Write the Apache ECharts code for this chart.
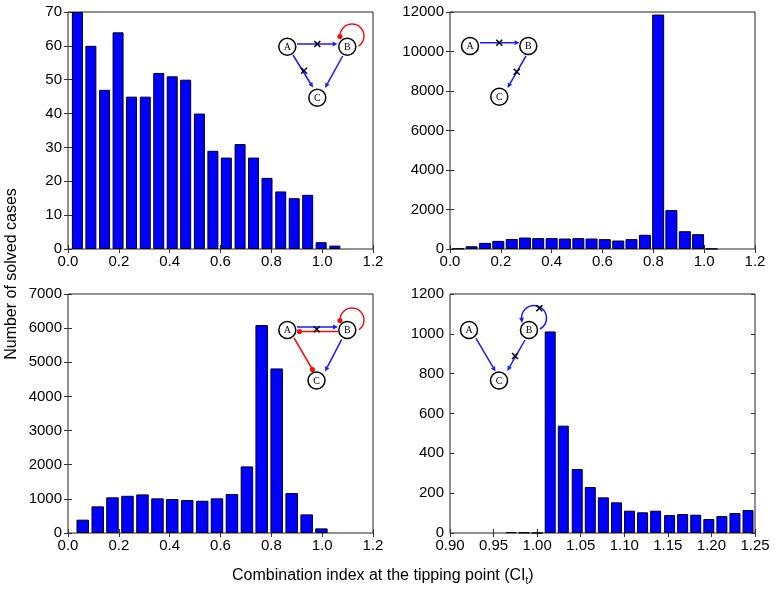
<!DOCTYPE html>
<html lang="en">
<head>
<meta charset="UTF-8">
<title>Combination index at the tipping point</title>
<script src="https://cdn.jsdelivr.net/npm/echarts@6/dist/echarts.min.js"></script>
<style>
  html, body { margin: 0; padding: 0; background: #fff; }
  #chart { width: 776px; height: 591px; }
</style>
</head>
<body>
<div id="chart"></div>
<script>
// histogram bin centres and counts, one pair of arrays per panel
var binsA = [0.037, 0.090, 0.144, 0.197, 0.250, 0.304, 0.357, 0.410, 0.463, 0.517,
             0.570, 0.623, 0.677, 0.730, 0.783, 0.837, 0.890, 0.943, 0.996, 1.050];
var countsA = [70, 60, 47, 64, 45, 45, 52, 51, 50, 40, 29, 27, 31, 27, 21, 17, 15, 16, 2, 1];

var binsB = [0.033, 0.085, 0.138, 0.190, 0.243, 0.295, 0.347, 0.400, 0.452, 0.505,
             0.557, 0.609, 0.662, 0.714, 0.767, 0.819, 0.871, 0.924, 0.976, 1.029];
var countsB = [20, 140, 310, 410, 510, 580, 550, 550, 530, 550,
               530, 500, 430, 500, 720, 11870, 1970, 900, 750, 15];

var binsC = [0.058, 0.117, 0.175, 0.234, 0.293, 0.352, 0.410, 0.469, 0.528,
             0.586, 0.645, 0.704, 0.762, 0.821, 0.880, 0.939, 0.997];
var countsC = [390, 780, 1045, 1090, 1130, 1015, 995, 965, 945, 1015, 1140, 1950, 6090, 4820, 1170, 545, 135];

var binsD = [0.970, 0.985, 1.000, 1.015, 1.030, 1.046, 1.061, 1.076, 1.091, 1.106, 1.121,
             1.136, 1.152, 1.167, 1.182, 1.197, 1.212, 1.227, 1.242];
var countsD = [4, 2, 0, 1012, 539, 321, 231, 179, 154, 112, 104, 112, 90, 95, 92, 70, 85, 100, 115];

// axis ranges: [min, max, step]
var xRangeA = [0, 1.2, 0.2], yRangeA = [0, 70, 10];
var xRangeB = [0, 1.2, 0.2], yRangeB = [0, 12000, 2000];
var xRangeC = [0, 1.2, 0.2], yRangeC = [0, 7000, 1000];
var xRangeD = [0.9, 1.25, 0.05], yRangeD = [0, 1200, 200];

var font = 'Liberation Sans';
var blue = '#1a1aff', red = '#ee1111';

var chart = echarts.init(document.getElementById('chart'));

var grids = [
  { left: 68, top: 12, width: 305, height: 237 },
  { left: 450, top: 12, width: 305, height: 237 },
  { left: 68, top: 294, width: 305, height: 239 },
  { left: 450, top: 294, width: 305, height: 239 }
];
grids.forEach(function (g) {
  g.show = true;
  g.borderColor = '#222';
  g.borderWidth = 1;
  g.backgroundColor = 'transparent';
});

var tick = { show: true, inside: true, length: 4, lineStyle: { color: '#333', width: 1 } };

function xAxes(i, r, dec) {
  var base = {
    type: 'value', gridIndex: i, min: r[0], max: r[1], interval: r[2],
    axisLine: { show: false }, splitLine: { show: false }, axisTick: tick
  };
  var bottom = Object.assign({}, base, {
    position: 'bottom',
    axisLabel: {
      show: true, margin: 5, fontSize: 15, fontFamily: font, color: '#000',
      showMinLabel: true, showMaxLabel: true,
      formatter: function (v) { return v.toFixed(dec); }
    }
  });
  var top = Object.assign({}, base, { position: 'top', axisLabel: { show: false } });
  return [bottom, top];
}

function yAxes(i, r) {
  var base = {
    type: 'value', gridIndex: i, min: r[0], max: r[1], interval: r[2],
    axisLine: { show: false }, splitLine: { show: false }, axisTick: tick
  };
  var left = Object.assign({}, base, {
    position: 'left',
    axisLabel: { show: true, margin: 6, fontSize: 15, fontFamily: font, color: '#000',
                 showMinLabel: true, showMaxLabel: true,
                 formatter: function (v) { return String(Math.round(v)); } }
  });
  var right = Object.assign({}, base, { position: 'right', axisLabel: { show: false } });
  return [left, right];
}

var xAxis = [].concat(xAxes(0, xRangeA, 1), xAxes(1, xRangeB, 1), xAxes(2, xRangeC, 1), xAxes(3, xRangeD, 2));
var yAxis = [].concat(yAxes(0, yRangeA), yAxes(1, yRangeB), yAxes(2, yRangeC), yAxes(3, yRangeD));

function hist(i, bins, counts, w) {
  return {
    type: 'bar',
    xAxisIndex: i * 2,
    yAxisIndex: i * 2,
    barWidth: w,
    data: bins.map(function (b, k) { return [b, counts[k]]; }),
    itemStyle: { color: '#0000ff', borderColor: '#000022', borderWidth: 1 },
    silent: true
  };
}

// ---- little network motifs drawn on top of the panels ----
function node(x, y, t) {
  return [
    { type: 'circle', shape: { cx: x, cy: y, r: 8.5 }, style: { fill: '#fff', stroke: '#000', lineWidth: 1.5 }, z: 100 },
    { type: 'text', x: x, y: y + 0.5, z: 101,
      style: { text: t, fontSize: 10, fontFamily: 'Liberation Serif', fill: '#000',
               align: 'center', verticalAlign: 'middle', textAlign: 'center', textVerticalAlign: 'middle' } }
  ];
}

function arrow(x1, y1, x2, y2, c) {
  var a = Math.atan2(y2 - y1, x2 - x1), L = 5, W = 2.4;
  var bx = x2 - L * Math.cos(a), by = y2 - L * Math.sin(a);
  return [
    { type: 'line', shape: { x1: x1, y1: y1, x2: bx, y2: by }, style: { stroke: c, lineWidth: 1.5 }, z: 99 },
    { type: 'polygon', z: 99,
      shape: { points: [[x2, y2], [bx + W * Math.sin(a), by - W * Math.cos(a)], [bx - W * Math.sin(a), by + W * Math.cos(a)]] },
      style: { fill: c } }
  ];
}

function inhib(x1, y1, x2, y2, c) {
  return [
    { type: 'line', shape: { x1: x1, y1: y1, x2: x2, y2: y2 }, style: { stroke: c, lineWidth: 1.5 }, z: 99 },
    { type: 'circle', shape: { cx: x2, cy: y2, r: 2.6 }, style: { fill: c }, z: 99 }
  ];
}

function cross(x, y) {
  var s = 3;
  return [
    { type: 'line', shape: { x1: x - s, y1: y - s, x2: x + s, y2: y + s }, style: { stroke: '#000', lineWidth: 1.5 }, z: 102 },
    { type: 'line', shape: { x1: x - s, y1: y + s, x2: x + s, y2: y - s }, style: { stroke: '#000', lineWidth: 1.5 }, z: 102 }
  ];
}

function loop(cx, cy, r, end, c) {
  return [{ type: 'arc', z: 99,
    shape: { cx: cx, cy: cy, r: r, startAngle: Math.PI, endAngle: 2 * Math.PI + end, clockwise: true },
    style: { stroke: c, fill: 'none', lineWidth: 1.5 } }];
}

var motifs = [].concat(
  // panel a
  arrow(297, 44, 337.5, 44, blue), cross(317.3, 44),
  arrow(293, 55, 313, 87.5, blue), cross(304, 70.7),
  arrow(342.7, 56, 325, 88, blue),
  loop(352, 36, 12, 1.0, red), [{ type: 'circle', shape: { cx: 340, cy: 36.5, r: 2.6 }, style: { fill: red }, z: 99 }],
  node(287.3, 46.7, 'A'), node(347.3, 46.7, 'B'), node(317.3, 97.7, 'C'),
  // panel b
  arrow(480, 42.7, 519.5, 42.7, blue), cross(499.3, 42.7),
  arrow(526, 56, 507.5, 88, blue), cross(516.7, 71.7),
  node(470, 46, 'A'), node(528.3, 46, 'B'), node(499.3, 96.7, 'C'),
  // panel c
  arrow(297, 327, 338, 327, blue),
  inhib(338, 331.5, 299.5, 331.5, red),
  cross(316.7, 329.3),
  loop(352, 320, 12, 0.95, red), [{ type: 'circle', shape: { cx: 340, cy: 320.5, r: 2.6 }, style: { fill: red }, z: 99 }],
  inhib(294, 338, 312.5, 369.5, red),
  arrow(341.7, 339.3, 325, 371.5, blue),
  node(287.3, 330, 'A'), node(347.3, 330, 'B'), node(316.5, 380.5, 'C'),
  // panel d
  arrow(476, 338.3, 495.5, 371.5, blue),
  arrow(525, 340, 507.3, 371, blue), cross(515, 356),
  loop(534, 318, 12.5, 1.08, blue), arrow(521.5, 317, 522, 323, blue), cross(539.3, 308.3),
  node(469, 330, 'A'), node(529, 330, 'B'), node(499, 380.5, 'C')
);

var labels = [
  { type: 'text', x: 12, y: 274, rotation: Math.PI / 2, z: 110,
    style: { text: 'Number of solved cases', fontSize: 16, fontFamily: font, fill: '#000',
             align: 'center', verticalAlign: 'middle', textAlign: 'center', textVerticalAlign: 'middle' } }
];

var options = {
  animation: false,
  backgroundColor: '#fff',
  title: {
    text: '{a|Combination index at the tipping point (CI}{b|t}{a|)}',
    left: 232,
    top: 566,
    padding: 0,
    textStyle: {
      fontWeight: 'normal',
      rich: {
        a: { fontSize: 16, fontFamily: font, fontWeight: 'normal', color: '#000', lineHeight: 20 },
        b: { fontSize: 10, fontFamily: font, fontWeight: 'normal', color: '#000', lineHeight: 20, verticalAlign: 'bottom' }
      }
    }
  },
  grid: grids,
  xAxis: xAxis,
  yAxis: yAxis,
  series: [
    hist(0, binsA, countsA, 11),
    hist(1, binsB, countsB, 12),
    hist(2, binsC, countsC, 12.5),
    hist(3, binsD, countsD, 11)
  ],
  graphic: { elements: motifs.concat(labels) }
};
chart.setOption(options);
</script>
</body>
</html>
